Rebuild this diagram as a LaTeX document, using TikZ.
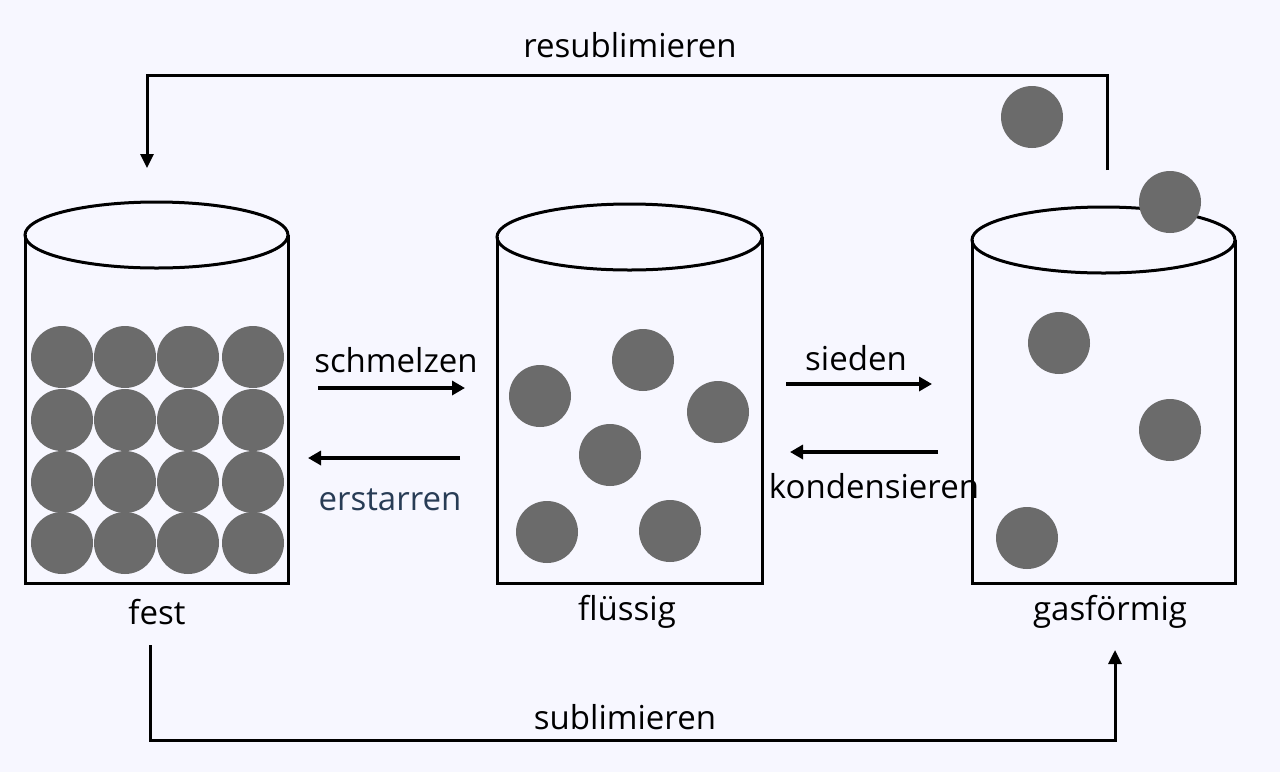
\documentclass[tikz,border=0pt]{standalone}
\usepackage{fontspec}
\setmainfont{Open Sans}
\usetikzlibrary{arrows.meta}
\begin{document}
\begin{tikzpicture}[x=1pt,y=-1pt,
  cyl/.style={line width=3pt},
  ball/.style={fill=black!58,draw=none},
  arr/.style={line width=4.5pt,-{Triangle[length=13pt,width=14pt]}},
  lab/.style={font=\fontsize{33}{38}\selectfont}]
\fill[white!97!blue] (0,0) rectangle (1280,772);
\useasboundingbox (0,0) rectangle (1280,772);
\foreach \n/\l/\r/\t in {A/25/288/235,B/497/762/237,C/972/1235/240}{
  \draw[cyl] (\l,\t) -- (\l,583) -- (\r,583) -- (\r,\t);
  \draw[cyl] ({(\l+\r)/2},\t) ellipse ({(\r-\l)/2} and 33);
}
\foreach \x in {62,125,188,253}{\foreach \y in {357,420,482,543}{\fill[ball] (\x,\y) circle (31);}}
\foreach \x/\y in {540/396,643/360,718/412,610/455,547/532,670/531,1032/117,1170/202,1059/343,1170/430,1027/538}{\fill[ball] (\x,\y) circle (31);}
\node[lab] (fest) at (157,612) {fest};
\node[lab] (fl) at (627,612) {flüssig};
\node[lab] (gas) at (1110,612) {gasförmig};
\node[lab] (schm) at (396,360) {schmelzen};
\node[lab,text={rgb,255:red,40;green,60;blue,85}] (erst) at (390,500) {erstarren};
\node[lab] (sied) at (856,358) {sieden};
\node[lab] (kond) at (874,486) {kondensieren};
\node[lab] (resub) at (630,45) {resublimieren};
\node[lab] (sub) at (625,717) {sublimieren};
\coordinate (a1) at (318,388); \coordinate (a2) at (465,388);
\coordinate (b1) at (460,458); \coordinate (b2) at (308,458);
\coordinate (c1) at (786,384); \coordinate (c2) at (932,384);
\coordinate (d1) at (938,452); \coordinate (d2) at (790,452);
\draw[arr] (a1) -- (a2);
\draw[arr] (b1) -- (b2);
\draw[arr] (c1) -- (c2);
\draw[arr] (d1) -- (d2);
\coordinate (r1) at (1107,170); \coordinate (r2) at (147,168);
\draw[line width=3pt,-{Triangle[length=14pt,width=13pt]}] (r1) -- (1107,75) -- (147,75) -- (r2);
\coordinate (s1) at (150,645); \coordinate (s2) at (1115,650);
\draw[line width=3pt,-{Triangle[length=14pt,width=13pt]}] (s1) -- (150,740) -- (1115,740) -- (s2);
\end{tikzpicture}
\end{document}
